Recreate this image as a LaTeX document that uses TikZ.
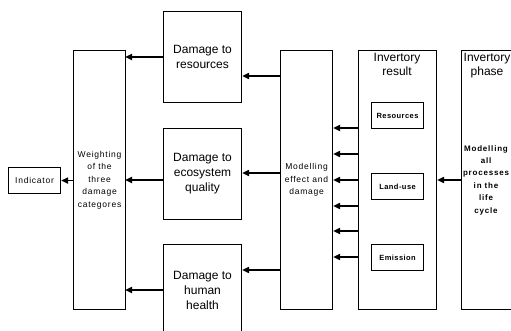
\documentclass[tikz,border=0pt]{standalone}
\usepackage{fontspec}
\setmainfont{Liberation Sans}
\usetikzlibrary{arrows.meta}
\begin{document}
\begin{tikzpicture}[x=1pt,y=-1pt,
  box/.style={draw,line width=1.1pt,inner sep=0pt,align=center,anchor=north west},
  big/.style={font=\fontsize{12}{15}\selectfont},
  small/.style={font=\fontsize{8.5}{12.4}\selectfont\addfontfeature{LetterSpace=9}},
  tiny/.style={font=\fontsize{7.5}{9}\selectfont\bfseries\addfontfeature{LetterSpace=6}},
  arr/.style={line width=1.8pt,-{Triangle[length=7pt,width=6pt]}}]
\useasboundingbox (0,0) rectangle (511,331);
\clip (0,0) rectangle (511,331);
% left
\node[box,small,minimum width=52pt,minimum height=26pt] (ind) at (8,167) {Indicator};
\node[box,small,minimum width=52pt,minimum height=259pt] (weight) at (73,50) {Weighting\\of the\\three\\damage\\categores};
% damage boxes
\node[box,big,minimum width=78pt,minimum height=91pt] (res) at (163,11) {Damage to\\resources};
\node[box,big,minimum width=78pt,minimum height=91pt] (eco) at (163,128) {Damage to\\ecosystem\\quality};
\node[box,big,minimum width=78pt,minimum height=91pt] (hum) at (163,244) {Damage to\\human\\health};
% modelling
\node[box,small,minimum width=52pt,minimum height=259pt] (model) at (280,50) {Modelling\\effect and\\damage};
% inventory result
\node[box,minimum width=78pt,minimum height=259pt] (result) at (358,50) {};
\node[font=\fontsize{12}{14}\selectfont,align=center,anchor=north,inner sep=0pt] (restitle) at (397,53) {Invertory\\result};
\node[box,tiny,minimum width=52pt,minimum height=26pt] (ires) at (371,102) {Resources};
\node[box,tiny,minimum width=52pt,minimum height=26pt] (iland) at (371,173) {Land-use};
\node[box,tiny,minimum width=52pt,minimum height=26pt] (iem) at (371,244) {Emission};
% inventory phase
\node[box,minimum width=52pt,minimum height=259pt] (phase) at (461,50) {};
\node[font=\fontsize{12}{14}\selectfont,align=center,anchor=north,inner sep=0pt] (phtitle) at (487,53) {Invertory\\phase};
\node[font=\fontsize{8}{12.4}\selectfont\bfseries\addfontfeature{LetterSpace=10},align=center,inner sep=0pt] (phtext) at (486,180) {Modelling\\all\\processes\\in the\\life\\cycle};
% coordinates
\coordinate (m76) at (280,76);
\coordinate (m173) at (280,173);
\coordinate (m270) at (280,270);
\coordinate (w57) at (125,57);
\coordinate (w180) at (125,180);
\coordinate (w290) at (125,290);
% arrows
\draw[arr] (weight.west |- ind.east) -- (ind.east);
\draw[arr] (res.west |- w57) -- (w57);
\draw[arr] (eco.west |- w180) -- (w180);
\draw[arr] (hum.west |- w290) -- (w290);
\draw[arr] (m76) -- (res.east |- m76);
\draw[arr] (m173) -- (eco.east |- m173);
\draw[arr] (m270) -- (hum.east |- m270);
\foreach \yy in {128,154,180,206,231,257}{
  \draw[arr] (result.west |- 0,\yy) -- (model.east |- 0,\yy);
}
\draw[arr] (phase.west |- 0,180) -- (result.east |- 0,180);
\end{tikzpicture}
\end{document}
